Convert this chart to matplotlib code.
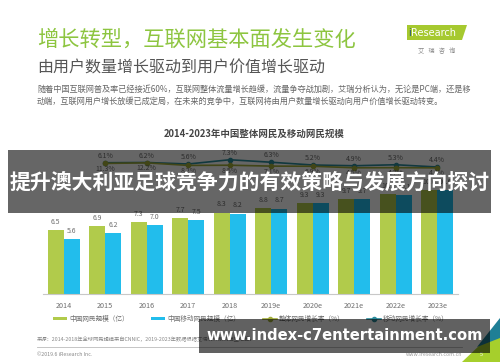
import numpy as np
import matplotlib
matplotlib.use("Agg")
import matplotlib.pyplot as plt
from matplotlib.patches import Rectangle, Polygon
from matplotlib.lines import Line2D

plt.rcParams['font.family'] = ['Noto Sans CJK SC', 'DejaVu Sans']

# data
years = ['2014', '2015', '2016', '2017', '2018', '2019e', '2020e', '2021e', '2022e', '2023e']
netizens = [6.5, 6.9, 7.3, 7.7, 8.3, 8.8, 9.3, 9.7, 10.2, 10.6]
mobile_netizens = [5.6, 6.2, 7.0, 7.5, 8.2, 8.7, 9.3, 9.7, 10.1, 10.6]
rate_years = years[1:]
rate_upper = [6.1, 6.2, 5.6, 7.3, 6.3, 5.2, 4.9, 5.3, 4.4]
rate_lower = [11.3, 12.2, 8.2, 8.5, 7.1, 6.9, 4.5, 4.7, 4.4]

W, H = 500, 362
GREEN = '#b1cb4b'
BLUE = '#22bdec'
TEAL = '#2b8c9c'
OLIVE = '#a2ad3a'
GRAY = '#6e6e6e'


def fx(px):
    return px / W


def fy(py):
    return 1 - py / H


fig = plt.figure(figsize=(W / 100, H / 100), dpi=100)
fig.patch.set_facecolor('white')

# header texts
fig.text(fx(37), fy(40), '增长转型，互联网基本面发生变化', fontsize=15.3,
         color='#8dc540', va='center', ha='left')
fig.text(fx(37), fy(68), '由用户数量增长驱动到用户价值增长驱动', fontsize=11.5,
         color='#555555', va='center', ha='left')
body = ['随着中国互联网普及率已经接近60%，互联网整体流量增长趋缓，流量争夺战加剧，艾瑞分析认为，无论是PC端，还是移',
        '动端，互联网用户增长放缓已成定局，在未来的竞争中，互联网将由用户数量增长驱动向用户价值增长驱动转变。']
fig.text(fx(37), fy(89), body[0], fontsize=5.9, color='#666666', va='center')
fig.text(fx(37), fy(101), body[1], fontsize=5.9, color='#666666', va='center')

# logo
fig.add_artist(Polygon([(fx(407), fy(25)), (fx(467), fy(25)), (fx(462), fy(40)), (fx(407), fy(40))],
                       closed=True, transform=fig.transFigure, facecolor='#a6c92f', edgecolor='none'))
fig.text(fx(408), fy(33), 'i', fontsize=7, color='#1f4e79', va='center', family='DejaVu Sans')
fig.text(fx(411), fy(33), 'Research', fontsize=7, color='white', va='center', family='DejaVu Sans')
fig.text(fx(437), fy(51), '艾   瑞   咨   询', fontsize=4.5, color='#888888', ha='center', va='center')

# chart title
fig.text(fx(254), fy(134), '2014-2023年中国整体网民及移动网民规模', fontsize=6.8,
         color='#444444', ha='center', va='center', fontweight='bold')

# main axes
ax = fig.add_axes([fx(43), fy(294), (458 - 43) / W, 154 / H])
x = np.arange(len(years))
w = 0.386
b1 = ax.bar(x - w / 2, netizens, w, color=GREEN, label='中国网民规模（亿）')
b2 = ax.bar(x + w / 2, mobile_netizens, w, color=BLUE, label='中国移动网民规模（亿）')
ax.bar_label(b1, fmt='%.1f', padding=3, fontsize=5, color=GRAY)
ax.bar_label(b2, fmt='%.1f', padding=3, fontsize=5, color=GRAY)
ax.set_xlim(-0.5, len(years) - 0.5)
ax.set_ylim(0, 15.7)
ax.set_xticks(x)
ax.set_xticklabels(years, fontsize=5.2, color=GRAY)
ax.tick_params(axis='x', length=0, pad=6)
ax.set_yticks([])
for s in ['top', 'right', 'left']:
    ax.spines[s].set_visible(False)
ax.spines['bottom'].set_color('#c8c8c8')
ax.spines['bottom'].set_linewidth(0.8)
ax.patch.set_alpha(0)

# growth-rate lines, each on its own hidden scale
rx = x[1:]
ax2 = ax.twinx()
ax2.set_ylim(-46.4, 15.2)
l1, = ax2.plot(rx, rate_upper, color=TEAL, lw=1.2, marker='o', ms=3,
               label='移动网民增长率（%）')
for xi, v in zip(rx, rate_upper):
    ax2.annotate(f'{v}%', (xi, v), xytext=(0, 5), textcoords='offset points',
                 ha='center', va='center', fontsize=5, color=GRAY)
ax3 = ax.twinx()
ax3.set_ylim(-192.2, 47.8)
l2, = ax3.plot(rx, rate_lower, color=OLIVE, lw=1.2, marker='o', ms=3,
               label='整体网民增长率（%）')
for xi, v in zip(rx, rate_lower):
    ax3.annotate(f'{v}%', (xi, v), xytext=(0, -4), textcoords='offset points',
                 ha='center', va='center', fontsize=5, color=GRAY)
for a in (ax2, ax3):
    a.set_yticks([])
    for s in a.spines.values():
        s.set_visible(False)

leg = ax.legend(handles=[b1, b2, l2, l1], ncol=4, loc='center',
                bbox_to_anchor=(fx(251), fy(319)), bbox_transform=fig.transFigure,
                frameon=False, fontsize=4.8, handlelength=2.1, handleheight=0.45,
                columnspacing=3.4, handletextpad=0.3, labelcolor=GRAY)

# footer
fig.text(fx(37), fy(339), '来源：2014-2018年全球网民规模来自CNNIC，2019-2023年数据根据艾瑞统计预测模型估算。',
         fontsize=3.8, color='#888888', va='center')
fig.add_artist(Line2D([fx(37), fx(462)], [fy(347), fy(347)], transform=fig.transFigure,
                      color='#bbbbbb', lw=0.6))
fig.text(fx(37), fy(354), '©2019.6 iResearch Inc.', fontsize=3.8, color='#888888', va='center')
fig.text(fx(462), fy(355), 'www.iresearch.com.cn', fontsize=3.8, color='#999999',
         va='center', ha='right')
fig.add_artist(Polygon([(fx(462), fy(362)), (fx(500), fy(326)), (fx(500), fy(362))],
                       closed=True, transform=fig.transFigure, facecolor='#a6cf2c', edgecolor='none'))
fig.add_artist(Polygon([(fx(477), fy(347)), (fx(500), fy(318)), (fx(500), fy(338))],
                       closed=True, transform=fig.transFigure, facecolor='#1f7f96', edgecolor='none'))
fig.text(fx(481), fy(354), '5', fontsize=4, color='white', va='center', ha='center')

# overlay banners
fig.add_artist(Rectangle((fx(8), fy(213)), (491 - 8) / W, (213 - 150) / H,
                         transform=fig.transFigure, facecolor='black', alpha=0.6,
                         edgecolor='none', zorder=10))
fig.text(fx(249.5), fy(182), '提升澳大利亚足球竞争力的有效策略与发展方向探讨', fontsize=15,
         color='white', fontweight='bold', ha='center', va='center', zorder=11)
fig.add_artist(Rectangle((fx(199), fy(353)), (490 - 199) / W, (353 - 319) / H,
                         transform=fig.transFigure, facecolor='black', alpha=0.62,
                         edgecolor='none', zorder=10))
fig.text(fx(345), fy(336), 'www.index-c7entertainment.com', fontsize=10.6,
         color='white', fontweight='bold', ha='center', va='center', zorder=11,
         family='DejaVu Sans')

fig.savefig('out.png', dpi=100)
